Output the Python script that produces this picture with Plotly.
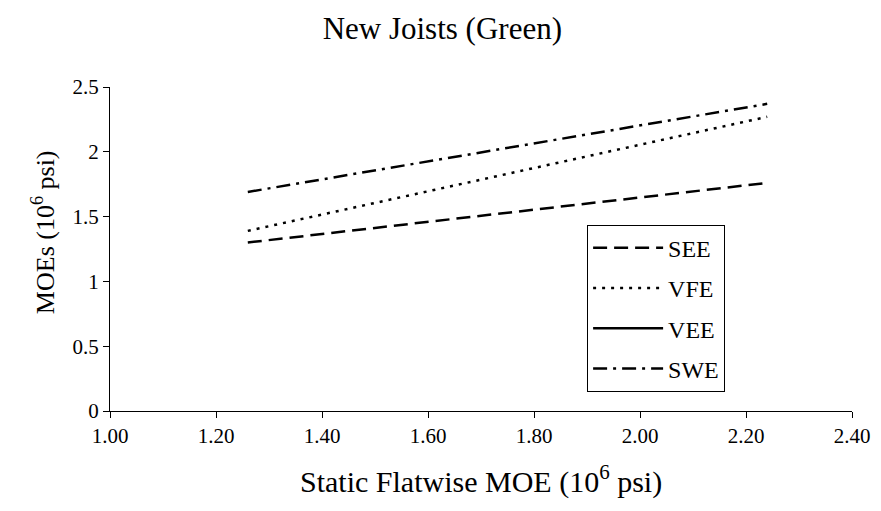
import plotly.graph_objects as go

x_vals = [1.26, 1.75, 2.24]
see = [1.30, 1.53, 1.76]
vfe = [1.39, 1.83, 2.27]
swe = [1.69, 2.03, 2.37]
vee = [None, None, None]

x_ticks = [1.0, 1.2, 1.4, 1.6, 1.8, 2.0, 2.2, 2.4]
y_ticks = [0, 0.5, 1, 1.5, 2, 2.5]
y_labels = ["0", "0.5", "1", "1.5", "2", "2.5"]

font = "Liberation Serif"
fig = go.Figure()
for name, ys, dash in [("SEE", see, "14px,7px"), ("VFE", vfe, "3px,6px"),
                       ("VEE", vee, "solid"), ("SWE", swe, "14px,6px,3px,6px")]:
    fig.add_trace(go.Scatter(x=x_vals, y=ys, mode="lines", name=name, legendgroup=name,
                             line=dict(color="black", width=2.5, dash=dash)))

fig.update_layout(
    width=881, height=511,
    margin=dict(l=102, r=37, t=79, b=108),
    paper_bgcolor="white", plot_bgcolor="white",
    font=dict(family=font, color="black", size=21),
    title=dict(text="New Joists (Green)", x=0.493, xanchor="center", y=0.982, yanchor="top",
               font=dict(size=31, family=font)),
    xaxis=dict(range=[1.0, 2.4], tickvals=x_ticks, tickformat=".2f",
               showline=True, linecolor="black", linewidth=1, ticks="outside",
               ticklen=6, tickcolor="black", showgrid=False, zeroline=False,
               tickfont=dict(size=21, family=font)),
    yaxis=dict(range=[0, 2.5], tickvals=y_ticks, ticktext=y_labels,
               showline=True, linecolor="black", linewidth=1, ticks="outside",
               ticklen=6, tickcolor="black", showgrid=False, zeroline=False,
               tickfont=dict(size=21, family=font)),
    legend=dict(x=0.643, y=0.575, xanchor="left", yanchor="top",
                bordercolor="black", borderwidth=1, bgcolor="white",
                font=dict(size=24, family=font), tracegroupgap=6,
                itemwidth=70),
    showlegend=True,
    annotations=[
        dict(text="Static Flatwise MOE (10<sup>6</sup> psi)", xref="paper", yref="paper",
             x=0.5, y=-0.212, xanchor="center", yanchor="middle", showarrow=False,
             font=dict(size=30, family=font)),
        dict(text="MOEs (10<sup>6</sup> psi)", xref="paper", yref="paper",
             x=-0.0903, y=0.552, xanchor="center", yanchor="middle", showarrow=False,
             textangle=-90, font=dict(size=26, family=font)),
    ],
)

fig.write_html("out.html")
